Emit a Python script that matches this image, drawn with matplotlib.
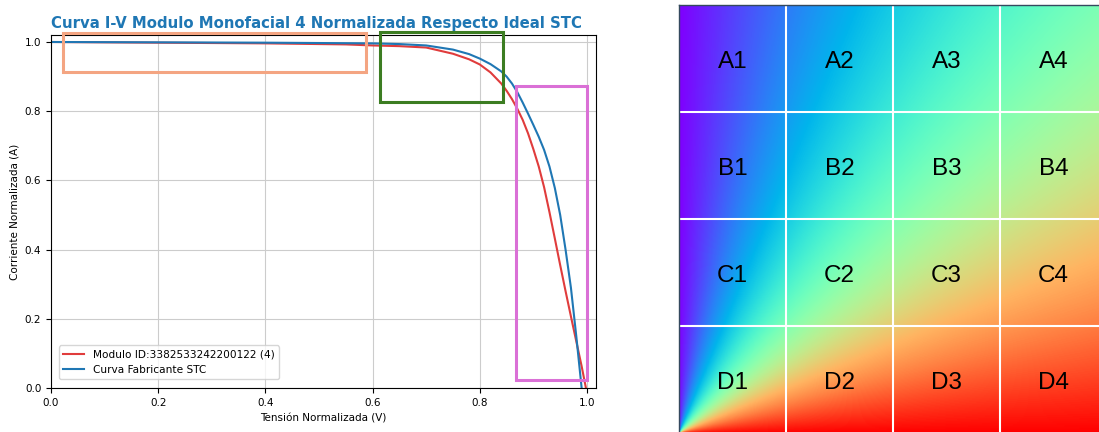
import matplotlib.pyplot as plt
import numpy as np

# curva del fabricante (STC), normalizada
v_fab = [0.0, 0.1, 0.2, 0.3, 0.4, 0.5, 0.55, 0.6, 0.65, 0.7, 0.75, 0.78, 0.8,
         0.82, 0.84, 0.85, 0.86, 0.87, 0.88, 0.89, 0.9, 0.91, 0.92, 0.93,
         0.94, 0.95, 0.96, 0.97, 0.98, 0.99]
i_fab = [1.0, 0.9995, 0.999, 0.9985, 0.998, 0.997, 0.9965, 0.996, 0.994, 0.99,
         0.978, 0.965, 0.952, 0.936, 0.915, 0.9, 0.88, 0.855, 0.825, 0.793,
         0.76, 0.726, 0.688, 0.64, 0.578, 0.5, 0.4, 0.29, 0.15, 0.0]

# modulo medido
v_mod = [0.0, 0.1, 0.2, 0.3, 0.4, 0.5, 0.55, 0.6, 0.65, 0.7, 0.75, 0.78, 0.8,
         0.82, 0.84, 0.85, 0.86, 0.87, 0.88, 0.89, 0.9, 0.91, 0.92, 0.93,
         0.94, 0.95, 0.96, 0.97, 0.98, 0.99, 0.998]
i_mod = [1.0, 0.999, 0.998, 0.997, 0.996, 0.994, 0.993, 0.99, 0.988, 0.984,
         0.966, 0.95, 0.935, 0.912, 0.88, 0.859, 0.835, 0.807, 0.775, 0.736,
         0.69, 0.64, 0.58, 0.508, 0.432, 0.355, 0.28, 0.207, 0.135, 0.063, 0.0]

label_mod = "Modulo ID:3382533242200122 (4)"
label_fab = "Curva Fabricante STC"

# recuadros de zonas (x0, y0, x1, y1) en unidades normalizadas
zonas = [
    (0.022, 0.913, 0.587, 1.026, "#f4a582"),
    (0.613, 0.827, 0.843, 1.029, "#3c7d22"),
    (0.867, 0.024, 1.0, 0.873, "#da70d6"),
]

# perfil del degradado: angulo desde la esquina inferior izquierda -> valor
ang_grados = [0, 15, 30, 45, 60, 75, 90]
valor_ang = [1.0, 0.83, 0.67, 0.5, 0.33, 0.17, 0.0]

filas = ["A", "B", "C", "D"]
columnas = ["1", "2", "3", "4"]

fig = plt.figure(figsize=(10.99, 4.32), dpi=100)

ax = fig.add_axes([51 / 1099, 44 / 432, 545 / 1099, 353 / 432])
ax.plot(v_mod, i_mod, color="#e03c3c", linewidth=1.5, label=label_mod)
ax.plot(v_fab, i_fab, color="#1f77b4", linewidth=1.5, label=label_fab)
ax.set_xlim(0, 1.0168)
ax.set_ylim(0, 1.0202)
ax.grid(True, color="#cccccc", linewidth=0.8)
ax.tick_params(labelsize=7.5)
ax.set_xlabel("Tensión Normalizada (V)", fontsize=7.5)
ax.set_ylabel("Corriente Normalizada (A)", fontsize=7.5)
ax.set_title("Curva I-V Modulo Monofacial 4 Normalizada Respecto Ideal STC",
             fontsize=10.7, fontweight="bold", color="#1f77b4", pad=5, x=0.488)
ax.legend(loc="lower left", fontsize=7.6, bbox_to_anchor=(0.005, 0.01))

for x0, y0, x1, y1, c in zonas:
    ax.add_patch(plt.Rectangle((x0, y0), x1 - x0, y1 - y0, fill=False,
                               edgecolor=c, linewidth=2.2, clip_on=False, zorder=5))

# panel derecho: cuadricula con degradado
ax2 = fig.add_axes([679 / 1099, -1 / 432, 428 / 1099, 428 / 432])
n = 400
xs = (np.arange(n) + 0.5) / n
X, Y = np.meshgrid(xs, xs)
ang = np.degrees(np.arctan2(Y, X))
campo = np.interp(ang, ang_grados, valor_ang)
ax2.imshow(campo, cmap="rainbow", origin="lower", extent=[0, 4, 0, 4],
           vmin=0, vmax=1, aspect="auto", interpolation="bilinear")
for k in range(1, 4):
    ax2.axvline(k, color="white", linewidth=1.5)
    ax2.axhline(k, color="white", linewidth=1.5)
for r, fila in enumerate(filas):
    for c, col in enumerate(columnas):
        ax2.text(c + 0.5, 3.47 - r, fila + col, ha="center", va="center",
                 fontsize=17.5, family="Liberation Sans")
ax2.set_xlim(0, 4)
ax2.set_ylim(0, 4)
ax2.set_xticks([])
ax2.set_yticks([])
for s in ax2.spines.values():
    s.set_color("#34495e")
    s.set_linewidth(1.0)

fig.savefig("out.png", dpi=100)
